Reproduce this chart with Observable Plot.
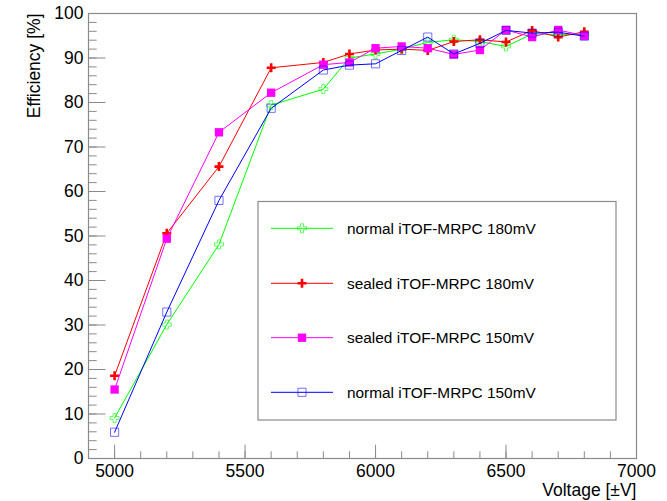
<!DOCTYPE html>
<html>
<head>
<meta charset="utf-8">
<script src="https://cdn.jsdelivr.net/npm/d3@7"></script>
<script src="https://cdn.jsdelivr.net/npm/@observablehq/plot@0.6"></script>
<style>
  html, body { margin: 0; padding: 0; background: white; }
  #chart { position: relative; width: 667px; height: 501px; }
</style>
</head>
<body>
<div id="chart"></div>
<script>
// ---- data ----
const voltage = [5000, 5200, 5400, 5600, 5800, 5900, 6000, 6100, 6200, 6300, 6400, 6500, 6600, 6700, 6800];
const normal180 = [9.1, 30.1, 48.1, 79.4, 83.0, 90.0, 90.9, 92.0, 93.5, 94.1, 93.7, 92.6, 95.4, 95.3, 95.3];
const sealed180 = [18.6, 50.6, 65.6, 87.8, 89.0, 90.9, 91.8, 92.0, 91.7, 93.7, 94.1, 93.6, 96.2, 94.7, 95.9];
const sealed150 = [15.5, 49.4, 73.3, 82.2, 88.5, 89.0, 92.2, 92.6, 92.2, 90.8, 91.8, 96.3, 94.7, 96.3, 95.0];
const normal150 = [5.9, 32.9, 58.0, 78.7, 87.3, 88.4, 88.7, 91.7, 94.7, 90.9, 93.3, 96.2, 95.6, 95.8, 94.9];

const seriesNames = ["normal iTOF-MRPC 180mV", "sealed iTOF-MRPC 180mV", "sealed iTOF-MRPC 150mV", "normal iTOF-MRPC 150mV"];
const seriesValues = [normal180, sealed180, sealed150, normal150];

const xMajorTicks = [5000, 5500, 6000, 6500, 7000];
const xMinorTicks = d3.range(4900, 7001, 100);
const yMajorTicks = d3.range(0, 101, 10);
const yMinorTicks = d3.range(0, 101, 2);

const xTitle = "Voltage [±V]";
const yTitle = "Efficiency [%]";

// ---- styles ----
const styles = [
  {color: "#00ff00", symbol: "cross", r: 3.8, fill: "none", stroke: "#00ff00", strokeWidth: 1, opacity: 0.6},
  {color: "#ff0000", symbol: "plus", r: 3.0, fill: "none", stroke: "#ff0000", strokeWidth: 2.6, opacity: 1},
  {color: "#ff00ff", symbol: "square", r: 4.7, fill: "#ff00ff", stroke: "none", strokeWidth: 0, opacity: 1},
  {color: "#0000ff", symbol: "square", r: 4.6, fill: "none", stroke: "#0000ff", strokeWidth: 1, opacity: 0.55}
];

const W = 667, H = 501;
const mL = 88, mR = 31, mT = 13, mB = 43;
const innerW = W - mL - mR, innerH = H - mT - mB;
const gray = "#8a8a8a";
const font = "'Liberation Sans', Arial, Helvetica, sans-serif";

const rows = [];
seriesNames.forEach((name, s) => {
  voltage.forEach((v, i) => rows.push({series: name, s, x: v, y: seriesValues[s][i]}));
});

const seriesMarks = [];
seriesNames.forEach((name, s) => {
  const st = styles[s];
  const d = rows.filter(r => r.s === s);
  seriesMarks.push(Plot.line(d, {x: "x", y: "y", stroke: st.color, strokeWidth: 1}));
  seriesMarks.push(Plot.dot(d, {x: "x", y: "y", symbol: st.symbol, r: st.r, fill: st.fill,
    stroke: st.stroke, strokeWidth: st.strokeWidth, strokeOpacity: st.opacity}));
});

const plot = Plot.plot({
  width: W, height: H,
  marginLeft: mL, marginRight: mR, marginTop: mT, marginBottom: mB,
  style: {fontFamily: font, background: "white", color: "black"},
  x: {domain: [4900, 7000]},
  y: {domain: [0, 100]},
  marks: [
    // ticks (inward)
    Plot.ruleX(xMinorTicks, {x: d => d, insetTop: innerH - 6.7, stroke: gray}),
    Plot.ruleX(xMajorTicks, {x: d => d, insetTop: innerH - 13.3, stroke: gray}),
    Plot.ruleY(yMinorTicks, {y: d => d, insetRight: innerW - 8.7, stroke: gray}),
    Plot.ruleY(yMajorTicks, {y: d => d, insetRight: innerW - 17.5, stroke: gray}),
    Plot.axisX({ticks: xMajorTicks, tickSize: 0, tickPadding: 6, tickFormat: d => String(d), fontSize: 17.5, label: null}),
    Plot.axisY({ticks: yMajorTicks, tickSize: 0, tickPadding: 5, tickFormat: d => String(d), fontSize: 17.5, label: null}),
    Plot.text([xTitle], {frameAnchor: "bottom-right", text: d => d, textAnchor: "end", lineAnchor: "middle", dy: 32, fontSize: 17.5}),
    Plot.text([yTitle], {frameAnchor: "top-left", text: d => d, rotate: -90, textAnchor: "end", lineAnchor: "middle", dx: -54, fontSize: 17.5}),
    ...seriesMarks,
    Plot.frame({stroke: gray, strokeWidth: 1.2})
  ]
});

document.getElementById("chart").appendChild(plot);

// ---- legend (inside frame) ----
const svg = d3.select(plot);
const lg = svg.append("g").attr("class", "legend").attr("text-anchor", "start");
const box = {x: 258, y: 201.5, w: 358, h: 218.5};
lg.append("rect").attr("x", box.x).attr("y", box.y).attr("width", box.w).attr("height", box.h)
  .attr("fill", "white").attr("stroke", gray).attr("stroke-width", 1.2);
const rowY = [228.3, 283.3, 337.7, 392.3];
const symMap = {cross: d3.symbolCross, plus: d3.symbolPlus, square: d3.symbolSquare};
seriesNames.forEach((name, s) => {
  const st = styles[s];
  const y = rowY[s];
  lg.append("line").attr("x1", 271).attr("x2", 333).attr("y1", y).attr("y2", y)
    .attr("stroke", st.color).attr("stroke-width", 1);
  lg.append("path").attr("transform", `translate(302,${y})`)
    .attr("d", d3.symbol(symMap[st.symbol], Math.PI * st.r * st.r)())
    .attr("fill", st.fill).attr("stroke", st.stroke).attr("stroke-width", st.strokeWidth)
    .attr("stroke-opacity", st.opacity);
  lg.append("text").attr("x", 347).attr("y", y).attr("dy", "0.35em").attr("text-anchor", "start")
    .attr("font-family", font).attr("font-size", 15.4).attr("fill", "black").text(name);
});
</script>
</body>
</html>
